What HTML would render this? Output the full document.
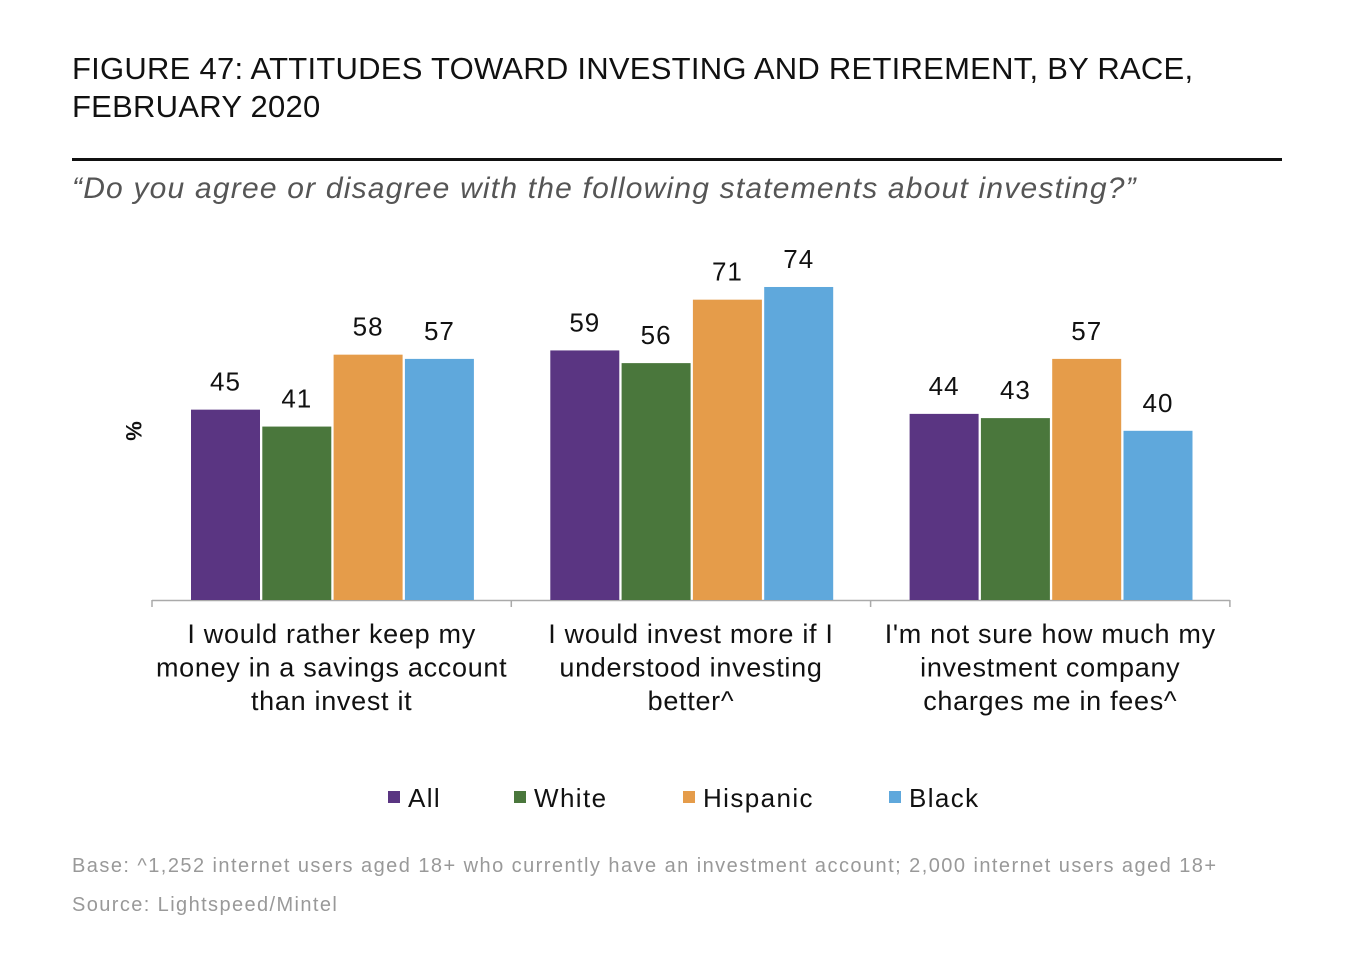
<!DOCTYPE html>
<html><head><meta charset="utf-8">
<style>
body{margin:0;background:#fff;width:1368px;height:956px;overflow:hidden;font-family:"Liberation Sans",sans-serif;position:relative}
.t{position:absolute;white-space:nowrap}
</style></head><body>
<div class="t" style="left:72px;top:50px;font-size:31px;line-height:38px;color:#111;letter-spacing:0.25px">FIGURE 47: ATTITUDES TOWARD INVESTING AND RETIREMENT, BY RACE,<br>FEBRUARY 2020</div>
<div style="position:absolute;left:72px;top:158px;width:1210px;height:3px;background:#111"></div>
<div class="t" style="left:72px;top:172px;font-size:30px;font-style:italic;color:#555;letter-spacing:1.2px">“Do you agree or disagree with the following statements about investing?”</div>
<svg id="chart" width="1368" height="956" style="position:absolute;left:0;top:0"></svg>
<div class="t" style="left:72px;top:855px;font-size:20px;color:#999;letter-spacing:1.45px">Base: ^1,252 internet users aged 18+ who currently have an investment account; 2,000 internet users aged 18+</div>
<div class="t" style="left:72px;top:894px;font-size:20px;color:#999;letter-spacing:1.4px">Source: Lightspeed/Mintel</div>
<script>
const categories=[["I would rather keep my","money in a savings account","than invest it"],["I would invest more if I","understood investing","better^"],["I'm not sure how much my","investment company","charges me in fees^"]];
const seriesNames=["All","White","Hispanic","Black"];
const allVals=[45,59,44];
const whiteVals=[41,56,43];
const hispanicVals=[58,71,57];
const blackVals=[57,74,40];
const series=[allVals,whiteVals,hispanicVals,blackVals];
const colors=["#5a3582","#4a773c","#e59c4a","#5fa8dc"];
const NS="http://www.w3.org/2000/svg";
const svg=document.getElementById('chart');
const base=600,scale=4.23,x0=152,gw=359.3,bw=69,bstep=71.3,boff=39;
const y=v=>base-v*scale;
function mk(t,a){const e=document.createElementNS(NS,t);for(const k in a)e.setAttribute(k,a[k]);svg.appendChild(e);return e;}
const ax=mk('line',{x1:x0,x2:x0+3*gw,y1:base+0.5,y2:base+0.5,stroke:'#aaa','stroke-width':1.5});


for(let i=0;i<=3;i++){const tk=mk('line',{x1:x0+i*gw,x2:x0+i*gw,y1:base,y2:base+7,stroke:'#aaa','stroke-width':1.5});

}
categories.forEach((c,ci)=>{
 series.forEach((s,si)=>{
  const bx=x0+ci*gw+boff+si*bstep,v=s[ci];
  const r=mk('rect',{x:bx,y:y(v),width:bw,height:v*scale,fill:colors[si]});
  
  
  const t=mk('text',{x:bx+bw/2,y:y(v)-19,'text-anchor':'middle','font-size':26,fill:'#111','letter-spacing':1});
  t.textContent=v;
  
  
 });
 c.forEach((ln,li)=>{
  const t=mk('text',{x:x0+ci*gw+gw/2,y:643+li*33.5,'text-anchor':'middle','font-size':27,fill:'#111','letter-spacing':0.7});
  t.textContent=ln;
  
  
 });
});
const yl=mk('text',{x:0,y:0,'text-anchor':'middle','font-size':22,'font-weight':'bold',fill:'#111',transform:'translate(126,431) rotate(90)'});
yl.textContent='%';


const lx=[388,514,683,889];
seriesNames.forEach((n,i)=>{
 const r=mk('rect',{x:lx[i],y:791,width:12,height:12,fill:colors[i]});
 
 
 const t=mk('text',{x:lx[i]+20,y:807,'font-size':26,fill:'#111','letter-spacing':1.4});
 t.textContent=n;
 
 
});
</script>
</body></html>
